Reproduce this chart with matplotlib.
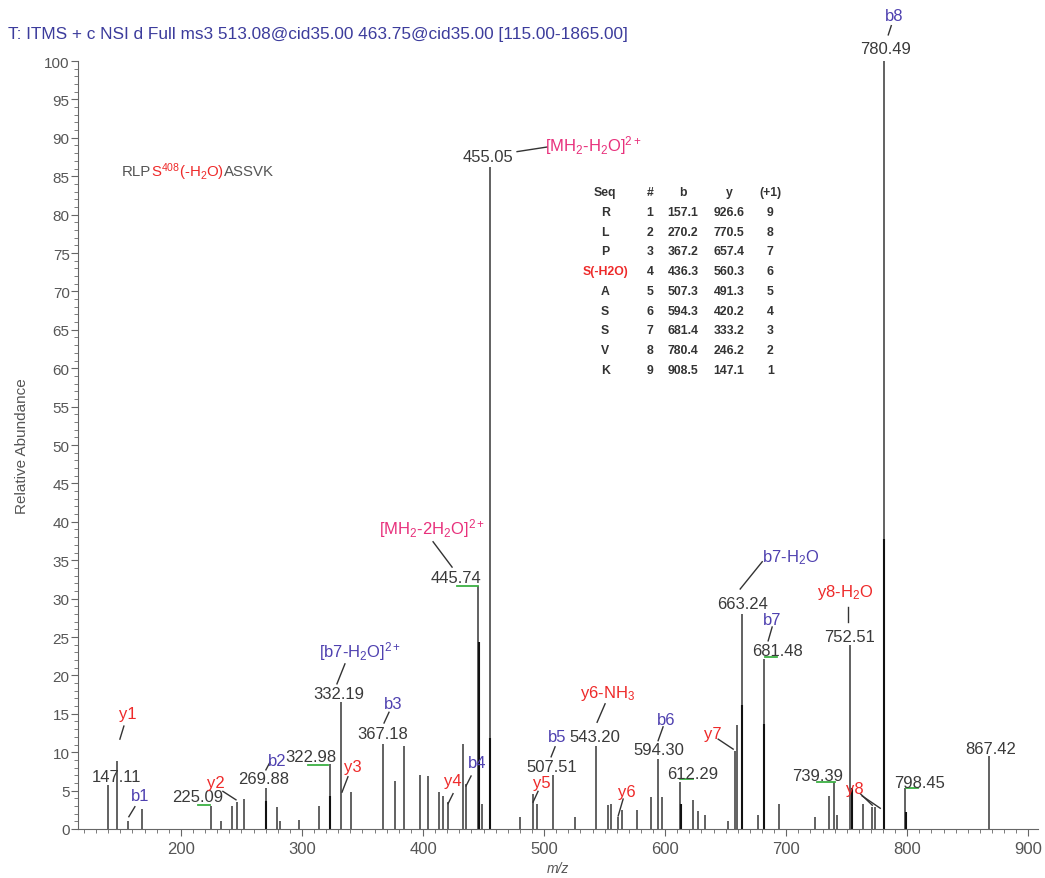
import matplotlib
matplotlib.use("Agg")
import matplotlib.pyplot as plt
from matplotlib.ticker import MultipleLocator

plt.rcParams.update({
    "font.family": ["Liberation Sans", "DejaVu Sans"],
    "mathtext.fontset": "custom",
    "mathtext.rm": "Liberation Sans",
    "mathtext.it": "Liberation Sans:italic",
    "mathtext.bf": "Liberation Sans:bold",
})

# centroid peaks (m/z, relative abundance)
mz = [139.4, 147.1, 156.5, 168.0, 224.8, 233.0, 242.0, 246.0, 252.0, 269.9,
      279.5, 282.0, 297.5, 314.0, 323.0, 332.2, 340.5, 367.2, 377.0, 384.3,
      397.5, 404.4, 413.5, 416.5, 420.5, 433.0, 435.8, 445.7, 448.5, 455.05,
      480.0, 491.0, 494.5, 507.5, 525.5, 543.2, 552.6, 555.5, 561.4, 564.0,
      577.0, 588.0, 594.3, 597.0, 612.3, 623.4, 627.0, 633.0, 651.8, 657.4,
      659.2, 663.2, 676.3, 681.5, 694.2, 723.5, 735.5, 739.4, 742.2, 752.5,
      763.4, 770.8, 773.5, 780.49, 798.45, 867.4]
intensity = [5.7, 8.9, 1.1, 2.6, 3.0, 1.0, 3.0, 3.5, 3.9, 5.3,
             2.9, 1.0, 1.2, 3.0, 8.5, 16.5, 4.8, 11.1, 6.2, 10.8,
             7.0, 6.9, 4.8, 4.3, 3.5, 11.1, 5.8, 31.6, 3.3, 86.2,
             1.5, 4.6, 3.3, 7.0, 1.5, 10.8, 3.1, 3.3, 1.5, 2.5,
             2.5, 4.2, 9.1, 4.2, 6.1, 3.8, 2.3, 1.8, 1.1, 10.2,
             13.6, 28.0, 1.8, 22.1, 3.3, 1.5, 4.3, 6.1, 1.8, 23.9,
             3.3, 2.8, 2.8, 100.0, 5.4, 9.5]

# darker overlapping peaks
mz_dark = [270.4, 323.5, 446.2, 455.5, 612.7, 663.7, 682.0, 754.5, 781.0, 798.9]
int_dark = [3.7, 4.3, 24.4, 11.8, 3.3, 16.1, 13.7, 5.3, 37.8, 2.2]

# m/z labels above peaks: text, x, y
mz_labels = ["147.11", "225.09", "269.88", "322.98", "332.19", "367.18", "445.74",
             "455.05", "507.51", "543.20", "594.30", "612.29", "663.24", "681.48",
             "739.39", "752.51", "780.49", "798.45", "867.42"]
mz_label_x = [147.1, 214.0, 268.6, 307.4, 330.6, 366.9, 427.3, 453.7, 506.6, 542.1,
              595.0, 623.1, 663.6, 692.6, 725.6, 752.1, 781.8, 809.9, 868.6]
mz_label_y = [6.8, 4.2, 6.6, 9.5, 17.6, 12.4, 32.7, 87.5, 8.2, 12.1,
              10.4, 7.2, 29.3, 23.2, 7.0, 25.1, 101.6, 6.1, 10.5]

# ion annotations
RED, BLUE, MAG = "#ee2a2a", "#4f41b0", "#e8317c"
ions = ["y1", "b1", "y2", "b2", "[b7-H$_2$O]$^{2+}$", "y3", "b3", "y4", "b4",
        "[MH$_2$-2H$_2$O]$^{2+}$", "[MH$_2$-H$_2$O]$^{2+}$", "y5", "b5", "y6-NH$_3$",
        "y6", "b6", "y7", "b7-H$_2$O", "b7", "y8-H$_2$O", "y8", "b8"]
ion_colors = [RED, BLUE, RED, BLUE, BLUE, RED, BLUE, RED, BLUE,
              MAG, MAG, RED, BLUE, RED, RED, BLUE, RED, BLUE, BLUE, RED, RED, BLUE]
ion_x = [156.2, 166.1, 228.9, 279.3, 347.9, 342.1, 375.2, 424.8, 444.6,
         407.4, 540.5, 498.3, 510.7, 552.1, 568.6, 600.8, 639.7, 703.3, 688.4,
         748.8, 757.0, 789.3]
ion_y = [15.0, 4.3, 6.1, 8.9, 23.2, 8.2, 16.4, 6.25, 8.7,
         39.3, 89.1, 6.1, 12.1, 17.8, 4.9, 14.3, 12.4, 35.5, 27.3,
         30.9, 5.3, 105.9]
# leader lines (x0, y0, x1, y1)
leaders = [(152.9, 13.4, 149.6, 11.7), (162.0, 2.9, 157.0, 1.6), (234.7, 4.9, 245.5, 3.8),
           (273.6, 8.7, 270.2, 7.7), (335.5, 21.5, 328.9, 18.9), (338.0, 6.8, 333.1, 4.8),
           (371.9, 15.2, 367.8, 13.8), (424.8, 4.6, 420.7, 3.3), (439.7, 6.9, 435.5, 5.6),
           (408.3, 37.4, 424.0, 34.1), (477.7, 88.2, 502.5, 88.8), (495.0, 4.9, 490.9, 3.5),
           (509.1, 10.7, 505.8, 9.4), (550.4, 16.3, 543.8, 13.9), (565.3, 3.9, 561.2, 1.7),
           (598.3, 13.3, 594.2, 11.5), (643.8, 11.7, 656.2, 10.4), (680.2, 34.8, 662.0, 31.25),
           (688.4, 26.3, 685.1, 24.5), (751.2, 28.9, 751.2, 27.0), (761.2, 4.6, 771.1, 3.1),
           (762.8, 4.3, 777.7, 2.7), (786.8, 104.6, 784.3, 103.4)]
# green marks under labels (x0, x1, y)
green_marks = [(214.0, 224.0, 3.1), (305.0, 321.5, 8.3), (428.1, 445.5, 31.6),
               (612.4, 623.1, 6.5), (682.6, 692.6, 22.4), (725.6, 740.5, 6.1),
               (799.2, 809.1, 5.3)]

# fragment table
seq = ["R", "L", "P", "S(-H2O)", "A", "S", "S", "V", "K"]
num = [1, 2, 3, 4, 5, 6, 7, 8, 9]
b_ions = ["157.1", "270.2", "367.2", "436.3", "507.3", "594.3", "681.4", "780.4", "908.5"]
y_ions = ["926.6", "770.5", "657.4", "560.3", "491.3", "420.2", "333.2", "246.2", "147.1"]
plus1 = [9, 8, 7, 6, 5, 4, 3, 2, 1]

fig = plt.figure(figsize=(10.45, 8.79), dpi=100)
ax = fig.add_axes([78 / 1045, 1 - 830 / 879, 960 / 1045, 768 / 879])

ax.vlines(mz, 0, intensity, color="#555555", lw=1.3)
ax.vlines(mz_dark, 0, int_dark, color="#111111", lw=1.5)

ax.set_xlim(115, 908)
ax.set_ylim(0, 100)
for s in ["top", "right"]:
    ax.spines[s].set_visible(False)
for s in ["left", "bottom"]:
    ax.spines[s].set_color("#666666")
ax.xaxis.set_major_locator(MultipleLocator(100))
ax.xaxis.set_minor_locator(MultipleLocator(10))
ax.yaxis.set_major_locator(MultipleLocator(5))
ax.yaxis.set_minor_locator(MultipleLocator(1))
ax.tick_params(which="both", direction="out", colors="#666666", labelcolor="#555555")
ax.tick_params(which="major", length=5, labelsize=12)
ax.tick_params(axis="y", which="major", labelsize=11, pad=1)
ax.tick_params(which="minor", length=3)
ax.set_xlabel("m/z", fontsize=10, color="#555555", style="italic", labelpad=4)
ax.text(-0.058, 0.5, "Relative Abundance", transform=ax.transAxes, rotation=90,
        fontsize=11, color="#555555", ha="center", va="center")

fig.text(8 / 1045, 1 - 35 / 879, "T: ITMS + c NSI d Full ms3 513.08@cid35.00 463.75@cid35.00 [115.00-1865.00]",
         fontsize=12.4, color="#3c3c9c", va="center")

for t, x, y in zip(mz_labels, mz_label_x, mz_label_y):
    ax.text(x, y, t, fontsize=12, color="#3a3a3a", ha="center", va="center", clip_on=False)

for t, c, x, y in zip(ions, ion_colors, ion_x, ion_y):
    ax.text(x, y, t, fontsize=12, color=c, ha="center", va="center", clip_on=False)

for x0, y0, x1, y1 in leaders:
    ax.plot([x0, x1], [y0, y1], color="#333333", lw=1, clip_on=False)

for x0, x1, y in green_marks:
    ax.plot([x0, x1], [y, y], color="#3cb043", lw=1.3)

# peptide sequence
t1 = ax.text(150.9, 85.7, "RLP", fontsize=10.8, color="#555555", va="center")
t2 = ax.annotate("S$^{408}$(-H$_2$O)", xy=(1, 0.5), xycoords=t1, fontsize=10.8,
                 color=RED, va="center")
ax.annotate("ASSVK", xy=(1, 0.5), xycoords=t2, fontsize=10.8, color="#555555", va="center")

# table
col_x = [550.4, 587.6, 614.9, 652.9, 686.8]
row0, step = 82.9, 2.565
for x, h in zip(col_x, ["Seq", "#", "b", "y", "(+1)"]):
    ax.text(x, row0, h, fontsize=8.8, weight="bold", color="#333333", ha="center", va="center")
for i in range(len(seq)):
    y = row0 - (i + 1) * step
    c = RED if seq[i] == "S(-H2O)" else "#333333"
    cells = [seq[i], str(num[i]), b_ions[i], y_ions[i], str(plus1[i])]
    for x, v in zip(col_x, cells):
        ax.text(x, y, v, fontsize=8.8, weight="bold", color=c if v == seq[i] else "#333333",
                ha="center", va="center")

fig.savefig("out.png", dpi=100)
